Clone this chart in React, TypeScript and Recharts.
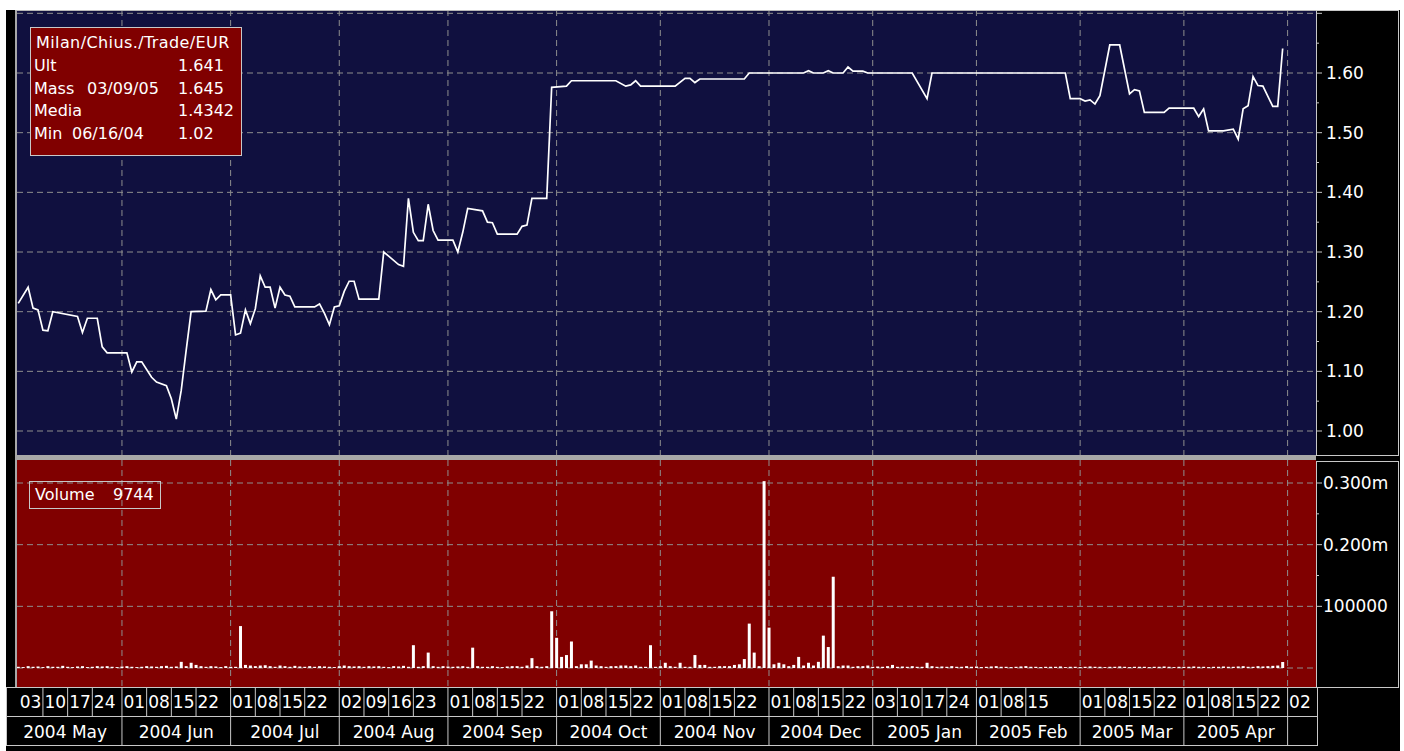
import React from 'react';
import { LineChart, Line, BarChart, Bar, XAxis, YAxis, CartesianGrid } from 'recharts';

// ---- data (x = trading-day slot from 2004-05-03) ----
const priceSlots = [0, 2, 3, 4, 5, 6, 7, 12, 13, 14, 16, 17, 18, 22, 23, 24, 25, 27, 28, 30, 31, 32, 33, 34, 35, 38, 39, 40, 41, 43, 44, 45, 46, 47, 48, 49, 50, 51, 52, 53, 54, 55, 56, 60, 61, 62, 63, 64, 65, 66, 67, 68, 69, 73, 74, 75, 77, 78, 79, 80, 81, 82, 83, 84, 85, 88, 89, 90, 91, 94, 95, 96, 97, 101, 102, 103, 104, 107, 108, 111, 112, 121, 123, 124, 125, 126, 133, 135, 136, 137, 138, 147, 148, 159, 160, 161, 163, 164, 165, 167, 168, 169, 171, 172, 181, 184, 185, 212, 213, 215, 216, 217, 218, 219, 221, 223, 225, 226, 227, 228, 232, 233, 238, 239, 240, 241, 244, 246, 247, 248, 249, 250, 251, 252, 254, 255, 256];
const priceValues = [1.214, 1.241, 1.206, 1.203, 1.169, 1.168, 1.2, 1.192, 1.165, 1.189, 1.189, 1.141, 1.131, 1.131, 1.099, 1.116, 1.116, 1.09, 1.082, 1.076, 1.054, 1.02, 1.068, 1.135, 1.2, 1.201, 1.237, 1.22, 1.228, 1.228, 1.161, 1.164, 1.203, 1.18, 1.205, 1.26, 1.241, 1.241, 1.206, 1.241, 1.228, 1.226, 1.208, 1.208, 1.213, 1.197, 1.178, 1.208, 1.21, 1.234, 1.251, 1.251, 1.221, 1.221, 1.3, 1.293, 1.279, 1.276, 1.39, 1.333, 1.319, 1.319, 1.38, 1.336, 1.32, 1.32, 1.3, 1.333, 1.373, 1.369, 1.35, 1.349, 1.33, 1.33, 1.343, 1.345, 1.39, 1.39, 1.576, 1.578, 1.587, 1.587, 1.578, 1.58, 1.587, 1.578, 1.578, 1.591, 1.591, 1.584, 1.59, 1.59, 1.6, 1.6, 1.604, 1.6, 1.6, 1.604, 1.6, 1.6, 1.61, 1.603, 1.603, 1.6, 1.6, 1.557, 1.6, 1.6, 1.557, 1.557, 1.553, 1.555, 1.548, 1.562, 1.647, 1.647, 1.565, 1.572, 1.57, 1.534, 1.534, 1.541, 1.541, 1.527, 1.54, 1.503, 1.503, 1.506, 1.489, 1.54, 1.545, 1.594, 1.579, 1.578, 1.544, 1.544, 1.641];

// daily volume in thousands, slots 0..256
const volumeK = [
  2, 1.5, 3, 2, 2.5, 1.5, 3, 2, 2, 3.5,
  2, 1.5, 2.5, 3, 1.5, 2, 3, 2.5, 3, 2,
  1.5, 2.5, 3, 2, 1.5, 2, 3, 2.5, 2, 3,
  3.5, 2, 2.5, 10, 3, 8.5, 5, 3, 2, 3,
  2.5, 1.5, 3, 2, 2, 68, 5, 4, 3, 4,
  4.5, 3, 2, 4, 3, 2, 3.5, 2.5, 2, 3,
  2, 3, 2.5, 2, 1.5, 3, 4, 3, 2.5, 3,
  2, 3, 2.5, 3, 2, 1.5, 3, 2.5, 3.5, 2,
  37, 2, 3, 25, 3, 2, 3, 2.5, 2, 2.5,
  3, 2, 33, 3, 2, 2, 3, 2, 1.5, 2.5,
  3, 3, 2, 4, 16, 3, 2, 3, 92, 49,
  18, 21, 43, 3, 6, 6, 12, 4, 3, 2,
  3, 3, 4, 4, 3, 4, 2, 2, 37, 2,
  3, 8.5, 3, 2, 8.5, 2, 2, 21, 5, 5,
  2, 2, 3, 3, 3, 5, 6, 14.5, 72, 25,
  3, 303, 65.5, 6, 8.5, 6, 3, 5, 18, 4,
  8.5, 4, 10, 52.5, 34, 148, 3, 4, 4, 2,
  3, 3, 4, 2, 2.5, 2, 3, 5, 2, 2.5,
  2, 3, 2, 2, 8.5, 3, 2, 2.5, 2, 3,
  2, 2, 3, 2, 2.5, 1.5, 2, 2.5, 3, 2,
  2, 1.5, 2, 2.5, 3, 2, 2, 1.5, 2, 2,
  2, 2.5, 1.5, 2, 2, 1.5, 2, 2.5, 2, 2,
  1.5, 2, 2, 2.5, 2, 1.5, 2, 2, 2, 1.5,
  2, 2, 2.5, 2, 1.5, 2, 2, 2, 2.5, 2,
  2, 1.5, 2, 2, 2.5, 2, 2, 2.5, 3, 2,
  2, 3, 2.5, 3, 3.5, 4, 9.744,
];

const monthSlots = [21, 43, 65, 87, 109, 130, 152, 173, 194, 215, 236, 257];
const monthCenterSlots = [9.5, 32, 54, 76, 98, 119.5, 141, 162.5, 183.5, 204.5, 225.5, 246.5];
const monthLabels = ['2004 May', '2004 Jun', '2004 Jul', '2004 Aug', '2004 Sep', '2004 Oct', '2004 Nov', '2004 Dec', '2005 Jan', '2005 Feb', '2005 Mar', '2005 Apr'];
const daySlots = [0, 5, 10, 15, 21, 26, 31, 36, 43, 48, 53, 58, 65, 70, 75, 80, 87, 92, 97, 102, 109, 114, 119, 124, 130, 135, 140, 145, 152, 157, 162, 167, 173, 178, 183, 188, 194, 199, 204, 215, 220, 225, 230, 236, 241, 246, 251, 257];
const dayLabels = ['03', '10', '17', '24', '01', '08', '15', '22', '01', '08', '15', '22', '02', '09', '16', '23', '01', '08', '15', '22', '01', '08', '15', '22', '01', '08', '15', '22', '01', '08', '15', '22', '03', '10', '17', '24', '01', '08', '15', '01', '08', '15', '22', '01', '08', '15', '22', '02'];

const priceTicks = [1.0, 1.05, 1.1, 1.15, 1.2, 1.25, 1.3, 1.35, 1.4, 1.45, 1.5, 1.55, 1.6, 1.65, 1.7];
const priceGrid = [1.0, 1.1, 1.2, 1.3, 1.4, 1.5, 1.6, 1.7];
const volTicks = [100000, 150000, 200000, 250000, 300000];
const volGrid = [0, 100000, 200000, 300000];
const volTickLabels: Record<number, string> = { 100000: '100000', 200000: '0.200m', 300000: '0.300m' };

const infoTitle = 'Milan/Chius./Trade/EUR';
const infoRows = [
  { name: 'Ult', date: '', value: '1.641' },
  { name: 'Mass', date: '03/09/05', value: '1.645' },
  { name: 'Media', date: '', value: '1.4342' },
  { name: 'Min', date: '06/16/04', value: '1.02' },
];
const volumeLegend = { name: 'Volume', value: '9744' };

// ---- style ----
const FONT = '"DejaVu Sans", "Liberation Sans", Arial, sans-serif';
const NAVY = '#10103f';
const RED = '#800000';
const GRID = '#8e8e8e';
const FRAME = '#c8c8c8';
const X_DOMAIN: [number, number] = [-0.25, 262.75];

const priceData = priceSlots.map((s, i) => ({ s, p: priceValues[i] }));
const volumeData = volumeK.map((v, i) => ({ s: i, v: v * 1000 }));

const PriceTick = (props: any) => {
  const { x, y, payload } = props;
  const v = payload.value as number;
  const major = Math.abs(v * 10 - Math.round(v * 10)) < 1e-6;
  const label = major && v < 1.65 ? v.toFixed(2) : '';
  return (
    <g>
      <line x1={x} x2={x + (major ? 6 : 3)} y1={y} y2={y} stroke={FRAME} />
      {label && (
        <text x={x + 10} y={y} dy="0.36em" fill="#fff" fontSize={17} fontFamily={FONT}>{label}</text>
      )}
    </g>
  );
};

const VolTick = (props: any) => {
  const { x, y, payload } = props;
  const v = payload.value as number;
  const label = volTickLabels[v] || '';
  return (
    <g>
      <line x1={x} x2={x + (label ? 6 : 3)} y1={y} y2={y} stroke={FRAME} />
      {label && (
        <text x={x + 7} y={y} dy="0.36em" fill="#fff" fontSize={17} fontFamily={FONT}>{label}</text>
      )}
    </g>
  );
};

const DayTick = (props: any) => {
  const { x, y, payload } = props;
  const idx = daySlots.indexOf(payload.value);
  const label = idx >= 0 ? dayLabels[idx] : '';
  return (
    <g>
      {idx > 0 && <line x1={x} x2={x} y1={y} y2={y + 29} stroke={FRAME} />}
      <text x={x + 1.5} y={y + 21} fill="#fff" fontSize={17} fontFamily={FONT}>{label}</text>
    </g>
  );
};

const MonthTick = (props: any) => {
  const { x, y, payload } = props;
  const v = payload.value as number;
  const mi = monthSlots.indexOf(v);
  if (mi >= 0) {
    return <line x1={x} x2={x} y1={y} y2={y + 29} stroke={FRAME} />;
  }
  const ci = monthCenterSlots.indexOf(v);
  return (
    <text x={x} y={y + 22} textAnchor="middle" fill="#fff" fontSize={17} fontFamily={FONT}>
      {ci >= 0 ? monthLabels[ci] : ''}
    </text>
  );
};

const monthAxisTicks = [...monthSlots, ...monthCenterSlots].sort((a, b) => a - b);

const abs = (l: number, t: number, w: number, h: number, extra: React.CSSProperties = {}): React.CSSProperties => ({
  position: 'absolute', left: l, top: t, width: w, height: h, boxSizing: 'border-box', ...extra,
});

export default function App() {
  return (
    <div style={{ position: 'absolute', left: 0, top: 0, width: 1404, height: 751, background: '#fff', overflow: 'hidden', fontFamily: FONT }}>
      {/* black frame */}
      <div style={abs(6, 10, 1394, 741, { background: '#000' })} />
      {/* right axis boxes */}
      <div style={abs(1316, 10, 83, 446, { border: `1px solid ${FRAME}` })} />
      <div style={abs(1316, 461, 83, 227, { border: `1px solid ${FRAME}` })} />
      {/* bottom label frame */}
      <div style={abs(6, 687, 1312, 59, { border: `1px solid ${FRAME}` })} />
      <div style={abs(6, 716, 1312, 1, { background: FRAME })} />

      {/* price panel */}
      <div style={{ position: 'absolute', left: 17, top: 10 }}>
        <LineChart width={1383} height={445} data={priceData} margin={{ top: 0, right: 0, bottom: 0, left: 0 }}>
          <CartesianGrid
            fill={NAVY}
            stroke={GRID}
            strokeDasharray="6 4"
            horizontalValues={priceGrid}
            verticalValues={monthSlots}
          />
          <XAxis type="number" dataKey="s" domain={X_DOMAIN} allowDataOverflow hide ticks={monthSlots} />
          <YAxis
            orientation="right"
            width={84}
            type="number"
            domain={[0.9598, 1.7056]}
            allowDataOverflow
            ticks={priceTicks}
            interval={0}
            tickSize={0}
            tickMargin={0}
            tickLine={false}
            axisLine={false}
            tick={<PriceTick />}
          />
          <Line type="linear" dataKey="p" stroke="#ffffff" strokeWidth={1.7} dot={false} isAnimationActive={false} />
        </LineChart>
      </div>

      {/* panel separator and borders */}
      <div style={abs(15, 455, 1301, 5, { background: '#a8a8a8' })} />
      <div style={abs(15, 10, 2, 677, { background: '#a8a8a8' })} />
      <div style={abs(15, 10, 1301, 1, { background: '#b8b8b8' })} />

      {/* volume panel */}
      <div style={{ position: 'absolute', left: 17, top: 460 }}>
        <BarChart width={1383} height={286} data={volumeData} margin={{ top: 0, right: 0, bottom: 0, left: 0 }}>
          <CartesianGrid
            xAxisId="d"
            fill={RED}
            stroke={GRID}
            strokeDasharray="6 4"
            horizontalValues={volGrid}
            verticalValues={monthSlots}
          />
          <XAxis
            xAxisId="d"
            type="number"
            dataKey="s"
            domain={X_DOMAIN}
            allowDataOverflow
            ticks={daySlots}
            interval={0}
            height={29}
            tickSize={0}
            tickMargin={0}
            tickLine={false}
            axisLine={false}
            tick={<DayTick />}
          />
          <XAxis
            xAxisId="m"
            type="number"
            dataKey="s"
            domain={X_DOMAIN}
            allowDataOverflow
            ticks={monthAxisTicks}
            interval={0}
            height={30}
            tickSize={0}
            tickMargin={0}
            tickLine={false}
            axisLine={false}
            tick={<MonthTick />}
          />
          <YAxis
            orientation="right"
            width={84}
            type="number"
            domain={[-30800, 337300]}
            allowDataOverflow
            ticks={volTicks}
            interval={0}
            tickSize={0}
            tickMargin={0}
            tickLine={false}
            axisLine={false}
            tick={<VolTick />}
          />
          <Bar xAxisId="d" dataKey="v" fill="#ffffff" barSize={3} isAnimationActive={false} />
        </BarChart>
      </div>

      {/* info box */}
      <div style={abs(30, 27, 212, 129, { background: RED, border: `1px solid ${FRAME}`, color: '#fff', fontSize: 16 })}>
        <div style={{ position: 'absolute', left: 5, top: 4, lineHeight: '22px', whiteSpace: 'nowrap', letterSpacing: 0.4 }}>{infoTitle}</div>
        {infoRows.map((r, i) => (
          <div key={r.name} style={{ position: 'absolute', left: 0, top: 27 + i * 22.5, width: 210, height: 22, lineHeight: '22px', whiteSpace: 'nowrap' }}>
            <span style={{ position: 'absolute', left: 3 }}>{r.name}</span>
            {r.date && <span style={{ position: 'absolute', left: r.name === 'Mass' ? 56 : 41 }}>{r.date}</span>}
            <span style={{ position: 'absolute', left: 147 }}>{r.value}</span>
          </div>
        ))}
      </div>

      {/* volume legend */}
      <div style={abs(29, 481, 132, 28, { border: `1px solid ${FRAME}`, color: '#fff', fontSize: 16, lineHeight: '26px', whiteSpace: 'nowrap' })}>
        <span style={{ position: 'absolute', left: 5 }}>{volumeLegend.name}</span>
        <span style={{ position: 'absolute', left: 83 }}>{volumeLegend.value}</span>
      </div>
    </div>
  );
}
